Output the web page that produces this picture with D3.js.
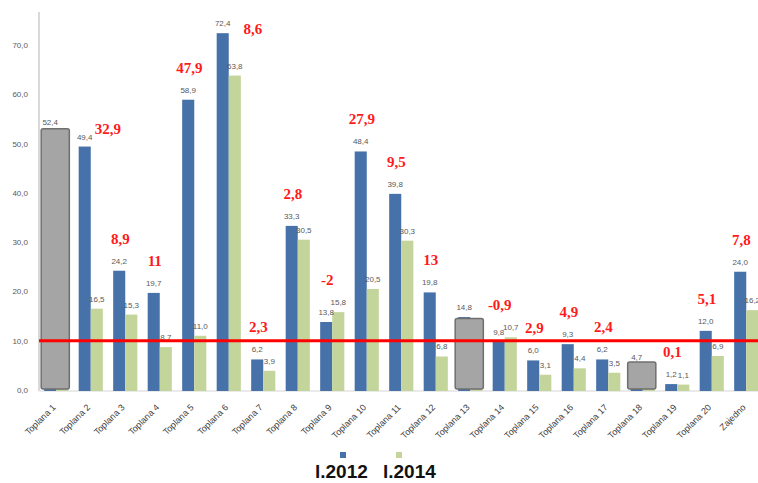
<!DOCTYPE html>
<html>
<head>
<meta charset="utf-8">
<script src="https://cdn.jsdelivr.net/npm/d3@7"></script>
<style>
  html, body { margin: 0; padding: 0; background: #fff; }
  svg { display: block; }
</style>
</head>
<body>
<svg id="chart" width="758" height="483"></svg>
<script>
// Heating plants (toplane): values for the two years, with the change noted in red
const categories = ["Toplana 1", "Toplana 2", "Toplana 3", "Toplana 4", "Toplana 5", "Toplana 6", "Toplana 7",
  "Toplana 8", "Toplana 9", "Toplana 10", "Toplana 11", "Toplana 12", "Toplana 13", "Toplana 14",
  "Toplana 15", "Toplana 16", "Toplana 17", "Toplana 18", "Toplana 19", "Toplana 20", "Zajedno"];
const seriesNames = ["l.2012", "l.2014"];
const values2012 = [52.4, 49.4, 24.2, 19.7, 58.9, 72.4, 6.2, 33.3, 13.8, 48.4, 39.8, 19.8, 14.8, 9.8, 6.0, 9.3, 6.2, 4.7, 1.2, 12.0, 24.0];
const values2014 = [38.0, 16.5, 15.3, 8.7, 11.0, 63.8, 3.9, 30.5, 15.8, 20.5, 30.3, 6.8, 11.0, 10.7, 3.1, 4.4, 3.5, 3.0, 1.1, 6.9, 16.2];
const diffLabels = [null, "32,9", "8,9", "11", "47,9", "8,6", "2,3", "2,8", "-2", "27,9", "9,5", "13", null, "-0,9", "2,9", "4,9", "2,4", null, "0,1", "5,1", "7,8"];
// plants covered by a grey box, and the level the box reaches
const maskedCategories = ["Toplana 1", "Toplana 13", "Toplana 18"];
const maskedLevels = [53.0, 14.5, 5.7];
const threshold = 10;
const yTicks = [0, 10, 20, 30, 40, 50, 60, 70];

const colors = ["#4672a9", "#c3d59b"];
const svg = d3.select("#chart");

const x = d3.scaleBand().domain(categories).range([39, 763.5]).paddingInner(0.3).paddingOuter(0.15);
const xs = d3.scaleBand().domain(seriesNames).range([0, x.bandwidth()]);
const y = d3.scaleLinear().domain([0, 76.7]).range([390, 12]);

const comma = v => d3.format(".1f")(v).replace(".", ",");

const rows = categories.map((c, i) => ({ cat: c, vals: [values2012[i], values2014[i]], note: diffLabels[i] }));

// axes
const yAxis = d3.axisLeft(y).tickValues(yTicks).tickSize(0).tickPadding(0).tickFormat(comma);
const ga = svg.append("g").attr("transform", "translate(28,0)").call(yAxis);
ga.select(".domain").remove();
ga.selectAll("text").attr("font-family", "Liberation Sans, Arial, sans-serif").attr("font-size", 8).attr("fill", "#595959");

svg.append("line").attr("x1", 39).attr("x2", 39).attr("y1", 12).attr("y2", y(0) + 1)
  .attr("stroke", "#d9d9d9").attr("stroke-width", 2);
svg.append("line").attr("x1", 39).attr("x2", 758).attr("y1", y(0) + 1).attr("y2", y(0) + 1)
  .attr("stroke", "#e3e3e3").attr("stroke-width", 1.5);

const xAxis = d3.axisBottom(x).tickSize(0).tickPadding(0);
const gx = svg.append("g").attr("transform", `translate(0,${y(0)})`).call(xAxis);
gx.select(".domain").remove();
gx.selectAll("text")
  .attr("font-family", "Liberation Sans, Arial, sans-serif").attr("font-size", 9).attr("fill", "#404040")
  .attr("text-anchor", "end").attr("dy", null).attr("y", null)
  .attr("transform", "translate(0,18) rotate(-45)");

// bars
const groups = svg.append("g").selectAll("g").data(rows).join("g")
  .attr("transform", d => `translate(${x(d.cat)},0)`);
groups.selectAll("rect").data(d => d.vals.map((v, k) => ({ k, v }))).join("rect")
  .attr("x", d => xs(seriesNames[d.k]))
  .attr("width", xs.bandwidth())
  .attr("y", d => y(d.v))
  .attr("height", d => y(0) - y(d.v) + 1)
  .attr("fill", d => colors[d.k]);

// value labels
groups.selectAll("text").data(d => d.vals.map((v, k) => ({ k, v }))).join("text")
  .attr("x", d => xs(seriesNames[d.k]) + xs.bandwidth() / 2)
  .attr("y", d => y(d.v) - 7)
  .attr("text-anchor", "middle")
  .attr("font-family", "Liberation Sans, Arial, sans-serif").attr("font-size", 8)
  .attr("fill", "#595959")
  .text(d => comma(d.v));

// grey boxes over selected plants
svg.append("g").selectAll("rect").data(maskedCategories.map((c, i) => ({ c, v: maskedLevels[i] }))).join("rect")
  .attr("x", d => x(d.c) - 3)
  .attr("width", x.bandwidth() + 4)
  .attr("y", d => y(d.v))
  .attr("height", d => y(0) - 1 - y(d.v))
  .attr("rx", 2)
  .attr("fill", "#a5a5a5").attr("stroke", "#6f6f6f").attr("stroke-width", 1.5);

// threshold line
svg.append("line").attr("x1", 39).attr("x2", 758).attr("y1", y(threshold)).attr("y2", y(threshold))
  .attr("stroke", "#ff0000").attr("stroke-width", 3);

// change notes in red
const noteNudge = { "Toplana 2": [22, 14], "Toplana 6": [29, 28] };
svg.append("g").selectAll("text").data(rows.filter(d => d.note)).join("text")
  .attr("x", d => x(d.cat) + x.bandwidth() / 2 - 5 + (noteNudge[d.cat] ? noteNudge[d.cat][0] : 0))
  .attr("y", d => y(d3.max(d.vals)) - 27 + (noteNudge[d.cat] ? noteNudge[d.cat][1] : 0))
  .attr("text-anchor", "middle")
  .attr("font-family", "Liberation Serif, Times New Roman, serif").attr("font-weight", "bold").attr("font-size", 15)
  .attr("fill", "#ff1a1a")
  .text(d => d.note);

// legend
const lg = svg.append("g");
seriesNames.forEach((s, i) => {
  lg.append("rect").attr("x", 340 + i * 56).attr("y", 452).attr("width", 6).attr("height", 6).attr("fill", colors[i]);
  lg.append("text").attr("x", 315 + i * 68).attr("y", 478)
    .attr("font-family", "Liberation Sans, Arial, sans-serif").attr("font-weight", "bold").attr("font-size", 19)
    .attr("fill", "#111").text(s);
});
</script>
</body>
</html>
